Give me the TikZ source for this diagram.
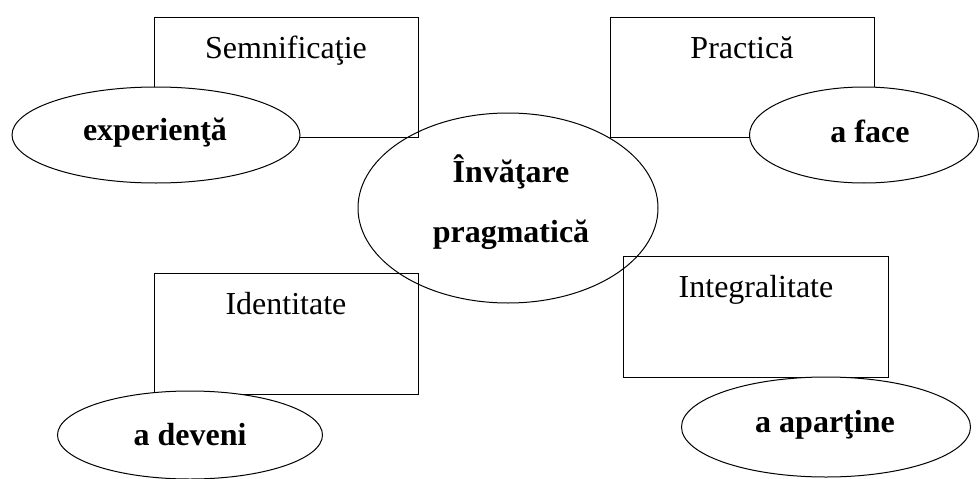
\documentclass[tikz,border=0pt]{standalone}
\usepackage{fontspec}
\setmainfont{Liberation Serif}
\usetikzlibrary{shapes.geometric}
\begin{document}
\begin{tikzpicture}[x=1pt,y=-1pt,line width=1pt,
  box/.style={draw,rectangle,inner sep=0pt},
  oval/.style={draw,ellipse,inner sep=0pt,fill=white},
  rtext/.style={anchor=base,inner sep=0pt,font=\fontsize{32}{38}\selectfont},
  btext/.style={anchor=base,inner sep=0pt,font=\fontsize{32}{38}\selectfont\bfseries}]
\useasboundingbox (0,0) rectangle (980,479);
% center
\node[draw,ellipse,inner sep=0pt,minimum width=300pt,minimum height=190pt] (c) at (508,208) {};
\node[btext] (c1) at (511,182) {Învăţare};
\node[btext] (c2) at (511,242) {pragmatică};
% boxes
\node[box,minimum width=264pt,minimum height=120pt] (sem) at (286,77) {};
\node[box,minimum width=264pt,minimum height=120pt] (pra) at (742,77) {};
\node[box,minimum width=264pt,minimum height=121pt] (ide) at (286,333.5) {};
\node[box,minimum width=265pt,minimum height=121pt] (int) at (755.5,316.5) {};
\node[rtext] (semt) at (286,58) {Semnificaţie};
\node[rtext] (prat) at (742,58) {Practică};
\node[rtext] (idet) at (286,314) {Identitate};
\node[rtext] (intt) at (756,297) {Integralitate};
% ovals
\node[oval,minimum width=288pt,minimum height=96pt] (exp) at (156,135) {};
\node[oval,minimum width=229pt,minimum height=96pt] (fac) at (864,135) {};
\node[oval,minimum width=265pt,minimum height=88pt] (dev) at (190,435) {};
\node[oval,minimum width=289pt,minimum height=100pt] (apa) at (826,427) {};
\node[btext] (expt) at (155,140) {experienţă};
\node[btext] (fact) at (870,142) {a face};
\node[btext] (devt) at (190,445) {a deveni};
\node[btext] (apat) at (825,432) {a aparţine};
\end{tikzpicture}
\end{document}
